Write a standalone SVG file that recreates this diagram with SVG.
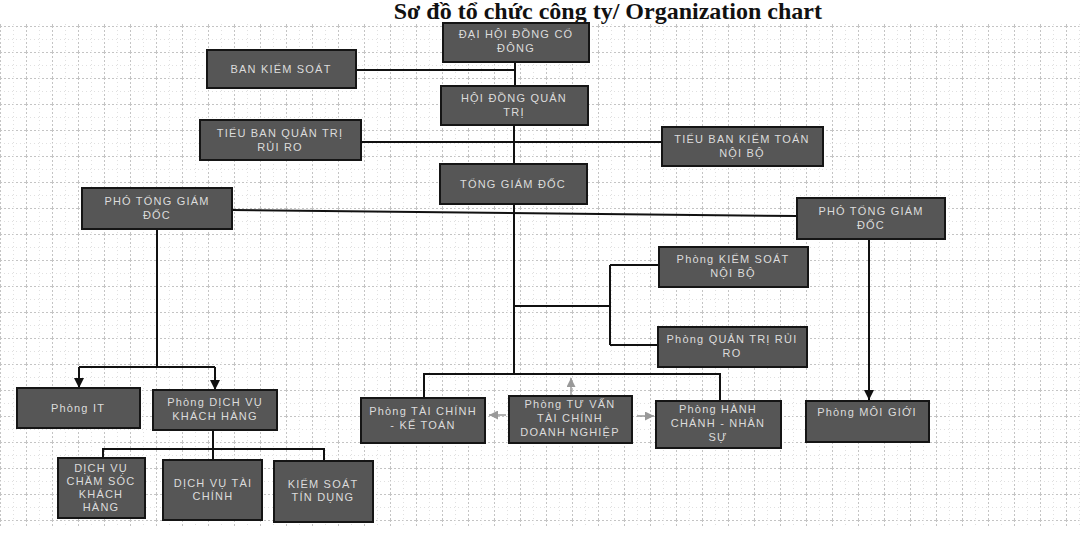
<svg xmlns="http://www.w3.org/2000/svg" width="1082" height="538" viewBox="0 0 1082 538">
<style>
.box{fill:#565656;stroke:#151515;stroke-width:2}
.t{font-family:"Liberation Sans",Arial,sans-serif;font-size:11px;fill:#dcdcdc;text-anchor:middle;letter-spacing:1.2px}
.c{fill:none;stroke:#111;stroke-width:2}
.g{fill:none;stroke:#999;stroke-width:1.5}
.title{font-family:"Liberation Serif","Times New Roman",serif;font-weight:bold;font-size:24px;fill:#111}
</style>
<defs>
<pattern id="grid" width="26" height="26" patternUnits="userSpaceOnUse">
<path d="M0 0.5H26M0.5 0V26" stroke="#c4c4c4" stroke-width="1" stroke-dasharray="2,2" fill="none"/>
<path d="M0 13.5H26M13.5 0V26" stroke="#e0e0e0" stroke-width="1" stroke-dasharray="1,3" fill="none"/>
</pattern>
<marker id="ah" viewBox="0 0 10 10" refX="10" refY="5" markerWidth="5" markerHeight="5" orient="auto" markerUnits="strokeWidth">
<path d="M0 0L10 5L0 10Z" fill="#111"/>
</marker>
<marker id="gh" viewBox="0 0 10 10" refX="10" refY="5" markerWidth="6" markerHeight="6" orient="auto" markerUnits="strokeWidth">
<path d="M0 0L10 5L0 10Z" fill="#999"/>
</marker>
</defs>
<rect x="0" y="0" width="1082" height="538" fill="#fff"/>
<rect x="0" y="22" width="1082" height="504" fill="url(#grid)"/>
<text class="title" x="822" y="19" text-anchor="end">Sơ đồ tổ chức công ty/ Organization chart</text>

<g id="connectors">
<path class="c" d="M515 62V86"/>
<path class="c" d="M356 70H515"/>
<path class="c" d="M514 125V164"/>
<path class="c" d="M361 142H662"/>
<path class="c" d="M514 204V374"/>
<path class="c" d="M232 210L797 216"/>
<path class="c" d="M514 306H610M610 265V345M610 265H659M610 345H658"/>
<path class="c" d="M424 398V374H720V401"/>
<path class="c" d="M869 239V400" marker-end="url(#ah)"/>
<path class="c" d="M157 229V367"/>
<path class="c" d="M79 367H215"/>
<path class="c" d="M79 367V388" marker-end="url(#ah)"/>
<path class="c" d="M215 367V390" marker-end="url(#ah)"/>
<path class="c" d="M213 430V449M103 458V449H324V461M213 449V460"/>
<path class="g" d="M571 396V378" marker-end="url(#gh)"/>
<path class="g" d="M506 415H489" marker-end="url(#gh)"/>
<path class="g" d="M637 416H654" marker-end="url(#gh)"/>
</g>

<g id="n-dhdcd"><rect class="box" x="443" y="23" width="146" height="39"/><text class="t" x="516" y="38">ĐẠI HỘI ĐỒNG CỔ</text><text class="t" x="516" y="52">ĐÔNG</text></g>
<g id="n-bks"><rect class="box" x="207" y="50" width="149" height="38"/><text class="t" x="281" y="73">BAN KIỂM SOÁT</text></g>
<g id="n-hdqt"><rect class="box" x="441" y="86" width="147" height="39"/><text class="t" x="514" y="102">HỘI ĐỒNG QUẢN</text><text class="t" x="514" y="116">TRỊ</text></g>
<g id="n-tbqt"><rect class="box" x="200" y="120" width="161" height="40"/><text class="t" x="280" y="137">TIỂU BAN QUẢN TRỊ</text><text class="t" x="280" y="151">RỦI RO</text></g>
<g id="n-tbkt"><rect class="box" x="662" y="127" width="161" height="39"/><text class="t" x="742" y="143">TIỂU BAN KIỂM TOÁN</text><text class="t" x="742" y="157">NỘI BỘ</text></g>
<g id="n-tgd"><rect class="box" x="440" y="164" width="147" height="40"/><text class="t" x="513" y="188">TỔNG GIÁM ĐỐC</text></g>
<g id="n-ptgd1"><rect class="box" x="82" y="188" width="150" height="41"/><text class="t" x="157" y="205">PHÓ TỔNG GIÁM</text><text class="t" x="157" y="219">ĐỐC</text></g>
<g id="n-ptgd2"><rect class="box" x="797" y="198" width="148" height="41"/><text class="t" x="871" y="215">PHÓ TỔNG GIÁM</text><text class="t" x="871" y="229">ĐỐC</text></g>
<g id="n-ksnb"><rect class="box" x="659" y="247" width="149" height="40"/><text class="t" x="733" y="263">Phòng KIỂM SOÁT</text><text class="t" x="733" y="277">NỘI BỘ</text></g>
<g id="n-qtrr"><rect class="box" x="658" y="327" width="149" height="40"/><text class="t" x="732" y="343">Phòng QUẢN TRỊ RỦI</text><text class="t" x="732" y="357">RO</text></g>
<g id="n-it"><rect class="box" x="17" y="388" width="123" height="40"/><text class="t" x="78" y="412">Phòng IT</text></g>
<g id="n-dvkh"><rect class="box" x="153" y="390" width="124" height="40"/><text class="t" x="215" y="406">Phòng DỊCH VỤ</text><text class="t" x="215" y="420">KHÁCH HÀNG</text></g>
<g id="n-tckt"><rect class="box" x="361" y="398" width="124" height="45"/><text class="t" x="423" y="415">Phòng TÀI CHÍNH</text><text class="t" x="423" y="429">- KẾ TOÁN</text></g>
<g id="n-tvtc"><rect class="box" x="509" y="396" width="123" height="47"/><text class="t" x="570" y="408">Phòng TƯ VẤN</text><text class="t" x="570" y="422">TÀI CHÍNH</text><text class="t" x="570" y="436">DOANH NGHIỆP</text></g>
<g id="n-hcns"><rect class="box" x="656" y="401" width="125" height="47"/><text class="t" x="718" y="413">Phòng HÀNH</text><text class="t" x="718" y="427">CHÁNH - NHÂN</text><text class="t" x="718" y="441">SỰ</text></g>
<g id="n-mg"><rect class="box" x="806" y="401" width="123" height="41"/><text class="t" x="867" y="416">Phòng MÔI GIỚI</text></g>
<g id="n-dvcs"><rect class="box" x="58" y="458" width="87" height="60"/><text class="t" x="101" y="472">DỊCH VỤ</text><text class="t" x="101" y="485">CHĂM SÓC</text><text class="t" x="101" y="498">KHÁCH</text><text class="t" x="101" y="511">HÀNG</text></g>
<g id="n-dvtc"><rect class="box" x="163" y="460" width="99" height="60"/><text class="t" x="213" y="487">DỊCH VỤ TÀI</text><text class="t" x="213" y="500">CHÍNH</text></g>
<g id="n-kstd"><rect class="box" x="274" y="461" width="99" height="61"/><text class="t" x="323" y="488">KIỂM SOÁT</text><text class="t" x="323" y="501">TÍN DỤNG</text></g>
</svg>
